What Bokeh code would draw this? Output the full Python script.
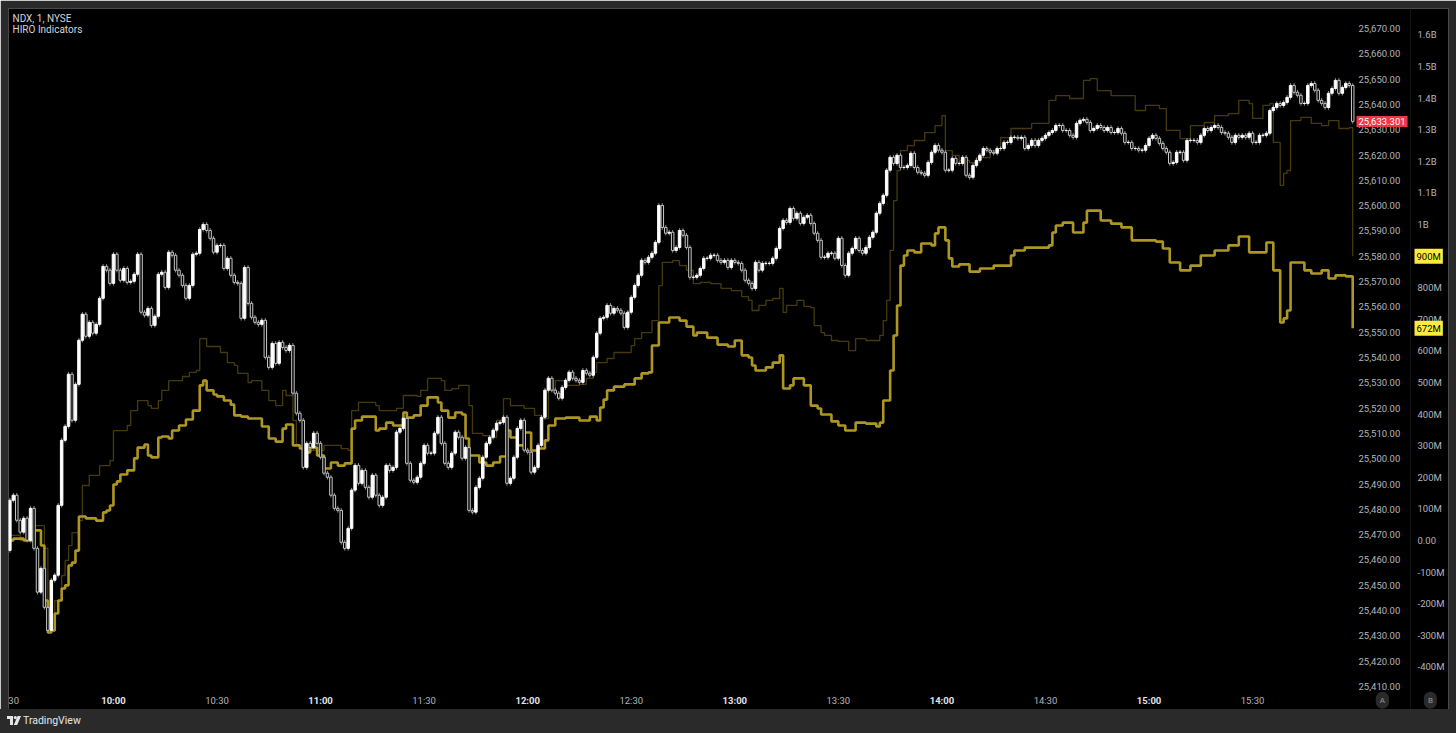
from bokeh.plotting import figure
from bokeh.models import (Range1d, LinearAxis, FixedTicker, NumeralTickFormatter,
                          Label, Div, ColumnDataSource, Span)
from bokeh.layouts import column
from bokeh.embed import file_html
from bokeh.resources import INLINE

# ---------------- data ----------------
# NDX 1-minute closes, 9:30 (minute 0) .. 15:59 (minute 389)
close = [
    25483.6, 25485.6, 25475.7, 25471.0, 25476.5, 25467.8, 25480.4, 25464.6, 25447.3, 25456.7,
    25441.3, 25432.2, 25452.0, 25454.0, 25481.6, 25507.3, 25512.8, 25533.4, 25515.2, 25529.4,
    25546.8, 25557.1, 25548.4, 25553.9, 25549.6, 25553.1, 25563.4, 25576.0, 25574.5, 25569.3,
    25580.8, 25574.5, 25570.5, 25575.2, 25569.7, 25570.1, 25572.9, 25580.8, 25557.9, 25556.7,
    25559.4, 25552.7, 25556.3, 25572.9, 25573.7, 25567.7, 25581.6, 25580.4, 25574.5, 25572.5,
    25568.5, 25563.4, 25568.5, 25580.8, 25581.2, 25590.6, 25592.6, 25590.2, 25587.1, 25581.6,
    25584.3, 25584.3, 25575.2, 25579.2, 25572.5, 25569.7, 25569.3, 25555.5, 25575.6, 25561.4,
    25555.9, 25553.9, 25553.1, 25554.7, 25540.1, 25536.1, 25545.6, 25537.7, 25546.0, 25544.0,
    25542.8, 25544.8, 25525.9, 25518.0, 25515.2,
    25496.6, 25506.1, 25504.5, 25510.1, 25506.1, 25500.6, 25494.3, 25492.7, 25485.6, 25480.4,
    25479.6, 25467.0, 25464.6, 25472.5, 25487.6, 25497.4, 25490.3, 25495.4, 25488.7, 25484.8,
    25493.5, 25485.6, 25481.6, 25484.8, 25497.4, 25495.4, 25496.6, 25510.5, 25512.0, 25516.0,
    25498.2, 25491.5, 25490.7, 25492.7, 25498.2, 25505.3, 25502.2, 25502.2, 25510.1, 25516.4,
    25506.1, 25498.2, 25496.6, 25502.2, 25510.5, 25508.5, 25500.2, 25504.5, 25479.6, 25478.9,
    25488.7, 25492.3, 25500.6, 25506.1, 25508.5, 25511.3, 25514.0, 25514.4, 25516.4, 25490.3,
    25492.3, 25500.6, 25512.0, 25515.2, 25503.4, 25502.6, 25494.7, 25496.6, 25505.3, 25516.4,
    25527.1, 25531.8, 25527.1, 25525.9, 25523.9, 25528.2, 25531.0, 25534.2, 25531.8, 25531.0,
    25530.2, 25534.9, 25533.8, 25533.0, 25540.1, 25549.6, 25555.5, 25555.9, 25560.6, 25557.5,
    25559.4, 25558.7, 25557.5, 25551.9, 25557.9, 25563.8, 25568.5, 25572.5, 25578.4,
    25577.6, 25579.6, 25581.2, 25585.5, 25600.1, 25591.4, 25589.1, 25589.5, 25582.3, 25583.5,
    25590.2, 25588.3, 25583.5, 25571.7, 25571.7, 25572.5, 25575.2, 25579.2, 25579.2, 25580.4,
    25580.4, 25578.4, 25577.6, 25578.4, 25575.6, 25578.4, 25577.6, 25577.2, 25574.5, 25570.5,
    25569.3, 25567.3, 25577.6, 25574.5, 25577.2, 25577.2, 25577.2, 25579.2, 25583.1, 25591.0,
    25594.2, 25593.4, 25598.9, 25595.0, 25597.0, 25593.0, 25595.4, 25596.2, 25593.0, 25589.1,
    25586.3, 25579.6, 25579.6, 25581.2, 25581.2, 25579.2, 25587.1, 25576.4, 25572.5, 25581.2,
    25583.1, 25587.1, 25582.3, 25581.2, 25583.5, 25587.5, 25589.5, 25597.0, 25600.9, 25604.1,
    25614.0, 25619.1, 25616.7, 25619.9, 25615.1, 25615.1, 25615.9, 25620.7, 25615.1, 25613.2,
    25612.8, 25612.0, 25617.1, 25621.1, 25623.8, 25621.9, 25621.1, 25614.0, 25614.0, 25618.7,
    25616.7, 25616.7, 25619.1, 25612.0, 25611.2, 25615.9, 25617.9, 25619.9, 25622.6, 25621.9,
    25621.1, 25620.7, 25622.6,
    25622.6, 25625.0, 25625.0, 25627.0, 25627.0, 25626.6, 25627.0, 25622.6, 25623.8, 25625.8,
    25623.8, 25625.8, 25626.6, 25627.8, 25628.9, 25629.7, 25631.7, 25631.7, 25629.7, 25629.7,
    25627.8, 25627.0, 25632.5, 25633.7, 25634.1, 25632.9, 25629.7, 25630.5, 25631.7, 25630.9,
    25629.7, 25630.9, 25628.9, 25628.9, 25630.5, 25628.6, 25625.0, 25625.0, 25622.6, 25622.6,
    25621.9, 25621.9, 25623.8, 25626.6, 25627.8, 25626.6, 25624.6, 25622.6, 25621.1, 25616.7,
    25617.1, 25621.1, 25621.1, 25617.9, 25625.8, 25625.8, 25625.8, 25625.0, 25627.8, 25630.5,
    25629.7, 25630.9, 25631.7, 25630.9, 25628.9, 25628.6, 25627.0, 25625.0, 25627.8, 25627.0,
    25627.8, 25627.0, 25628.6, 25625.0, 25625.0, 25627.8, 25627.8, 25628.6, 25637.6, 25638.8,
    25640.4, 25639.6, 25640.8, 25642.8, 25647.5, 25644.8, 25643.6, 25640.4, 25640.4, 25647.5,
    25648.3, 25645.6, 25641.6, 25640.4, 25638.8, 25644.4, 25646.3, 25649.5, 25644.4, 25646.7,
    25648.3, 25647.5, 25633.301,
]
first_open = 25463.8
last_price = 25633.301

# HIRO indicator (bright) - minute of change, value in millions
hiro_t = [0, 1, 4, 7, 9, 10, 11, 12, 13, 14, 15, 16, 17, 18, 19, 20, 22, 25, 27, 28,
          29, 30, 31, 32, 34, 36, 37, 39, 40, 41, 43, 44, 46, 47, 49, 51, 53, 55, 56, 57,
          59, 60, 62, 64, 65, 67, 69, 73, 75, 77, 79, 80, 82, 84, 85, 87, 89, 91, 93, 95,
          97, 99, 100, 102, 106, 107, 109, 111, 114, 115, 117, 119, 121, 124, 125, 127, 129, 131, 132, 133,
          136, 138, 140, 142, 144, 145, 147, 149, 151, 153, 155, 156, 158, 161, 165, 168, 170, 171, 172, 173,
          175, 178, 181, 183, 185, 186, 188, 191, 194, 196, 198, 199, 202, 205, 208, 210, 212, 214, 215, 216,
          219, 221, 223, 224, 226, 227, 230, 232, 234, 235, 238, 240, 242, 245, 248, 251, 252, 253, 255, 256,
          257, 258, 259, 260, 262, 264, 267, 268, 269, 271, 272, 273, 275, 278, 281, 285, 290, 291, 294, 301,
          302, 303, 305, 308, 311, 312, 316, 319, 322, 325, 332, 334, 336, 339, 342, 345, 349, 353, 356, 359,
          364, 366, 368, 369, 370, 371, 375, 377, 380, 382, 384, 387, 389]
hiro_v = [0, 6, 0, 32, -16, -190, -291, -285, -231, -190, -152, -142, -79, -70, -32, 76, 70, 63, 89, 95,
          111, 177, 187, 209, 222, 260, 294, 304, 269, 263, 326, 329, 323, 348, 364, 383, 411, 491, 506, 475,
          462, 456, 443, 430, 396, 392, 386, 361, 323, 313, 354, 367, 301, 291, 279, 294, 269, 228, 247, 237,
          244, 354, 380, 392, 348, 354, 373, 364, 405, 389, 396, 427, 453, 437, 411, 389, 405, 399, 323, 269,
          247, 237, 247, 266, 348, 326, 301, 342, 285, 291, 317, 364, 386, 389, 380, 392, 380, 421, 446, 475,
          487, 494, 513, 529, 532, 617, 690, 706, 696, 677, 649, 658, 642, 620, 614, 633, 586, 579, 554, 538,
          548, 563, 586, 481, 491, 513, 491, 427, 418, 399, 377, 364, 348, 373, 370, 361, 373, 443, 538, 649,
          744, 870, 902, 918, 912, 940, 934, 972, 991, 950, 893, 867, 874, 851, 861, 870, 902, 918, 927, 934,
          975, 997, 1006, 975, 1006, 1044, 1013, 1003, 991, 950, 946, 924, 880, 855, 870, 902, 918, 934, 962, 912,
          943, 855, 690, 703, 728, 880, 855, 845, 855, 829, 839, 836, 672]

# HIRO indicator (dark) - minute of change, value in millions
hiro2_t = [0, 3, 6, 10, 11, 12, 13, 15, 16, 17, 18, 20, 21, 23, 26, 29, 30, 34, 35, 37,
           40, 41, 43, 44, 46, 50, 52, 54, 55, 57, 61, 63, 65, 66, 69, 70, 73, 75, 77, 79,
           80, 82, 83, 87, 91, 96, 98, 99, 101, 106, 107, 112, 114, 118, 119, 121, 125, 126, 128, 130,
           133, 134, 137, 139, 141, 143, 145, 149, 152, 154, 156, 158, 161, 165, 167, 169, 170, 173, 175, 180,
           181, 183, 186, 188, 189, 192, 194, 196, 198, 200, 203, 206, 209, 212, 214, 215, 217, 219, 221, 223,
           224, 225, 228, 230, 232, 233, 235, 236, 238, 240, 243, 245, 248, 252, 253, 254, 255, 256, 257, 258,
           260, 262, 265, 268, 270, 271, 273, 275, 278, 280, 284, 287, 290, 296, 301, 303, 307, 311, 313, 315,
           319, 326, 329, 333, 335, 339, 342, 346, 349, 353, 356, 359, 360, 363, 365, 366, 368, 369, 370, 371,
           374, 377, 380, 382, 385, 388, 389]
hiro2_v = [16, 0, 47, -25, -237, -285, -190, -111, -63, -16, 25, 63, 174, 206, 237, 253, 348, 364, 411, 443,
           427, 418, 443, 475, 506, 519, 532, 538, 639, 614, 595, 563, 554, 529, 500, 506, 475, 443, 427, 475,
           459, 380, 301, 285, 301, 291, 285, 411, 437, 427, 411, 418, 459, 456, 475, 513, 506, 475, 481, 491,
           427, 339, 332, 326, 380, 449, 427, 418, 396, 386, 475, 506, 491, 494, 513, 532, 563, 576, 595, 617,
           639, 658, 696, 807, 880, 886, 870, 855, 813, 817, 813, 798, 791, 772, 760, 728, 744, 760, 766, 798,
           722, 744, 760, 741, 737, 680, 658, 649, 633, 630, 601, 639, 633, 649, 696, 760, 918, 1076, 1171, 1234,
           1250, 1266, 1291, 1313, 1345, 1234, 1219, 1203, 1196, 1212, 1234, 1275, 1304, 1320, 1393, 1408, 1399, 1456, 1462, 1424,
           1408, 1361, 1377, 1367, 1298, 1272, 1313, 1323, 1345, 1351, 1393, 1383, 1336, 1377, 1383, 1260, 1124, 1162, 1171, 1329,
           1339, 1320, 1313, 1329, 1304, 1307, 900]

time_ticks = [0, 30, 60, 90, 120, 150, 180, 210, 240, 270, 300, 330, 360]
time_labels = ["9:30", "10:00", "10:30", "11:00", "11:30", "12:00", "12:30",
               "13:00", "13:30", "14:00", "14:30", "15:00", "15:30"]
price_ticks = [25410 + 10 * i for i in range(27)]
hiro_ticks = [-400, -300, -200, -100, 0, 100, 200, 300, 400, 500, 600, 700, 800,
              900, 1000, 1100, 1200, 1300, 1400, 1500, 1600]
hiro_tick_labels = ["-400M", "-300M", "-200M", "-100M", "0.00", "100M", "200M", "300M",
                    "400M", "500M", "600M", "700M", "800M", "900M", "1B", "1.1B", "1.2B",
                    "1.3B", "1.4B", "1.5B", "1.6B"]
hiro_last = 672
hiro2_last = 900

# ---------------- layout / style constants ----------------
FONT = "Roboto"
FS = "9.5px"
AXIS_TXT = "#b2b5be"
FRAME_GRAY = "#2a2a2a"
X0, X1 = -0.4, 416.75          # full black panel (candles end near 389.5)
Y0, Y1 = 25400.93, 25677.9
PRICE_AXIS_X = 389.52          # left edge of price scale (A)
HIRO_AXIS_X = 405.75           # left edge of HIRO scale (B)
TIME_AXIS_Y = 25408.5          # top of time scale
LBL_Y = 25404.6                # vertical centre of time labels
WICK = 0.9

n = len(close)
xs = list(range(n))
opens = [first_open] + close[:-1]
up = [c >= o for o, c in zip(opens, close)]
src = ColumnDataSource(dict(
    x=xs,
    top=[max(o, c) for o, c in zip(opens, close)],
    bottom=[min(o, c) for o, c in zip(opens, close)],
    high=[max(o, c) + WICK for o, c in zip(opens, close)],
    low=[min(o, c) - WICK for o, c in zip(opens, close)],
    fill=["#ffffff" if u else "#000000" for u in up],
    line=["#ffffff" if u else "#c8c8c8" for u in up],
))

p = figure(width=1456, height=709, x_range=Range1d(X0, X1), y_range=Range1d(Y0, Y1),
           y_axis_location="right", output_backend="svg", toolbar_location=None,
           background_fill_color="#000000", border_fill_color=FRAME_GRAY,
           min_border_left=8, min_border_top=8, min_border_right=8, min_border_bottom=0)
p.outline_line_color = None
p.extra_y_ranges = {"hiro": Range1d(-534.9, 1683.8)}
p.grid.visible = False


def style_axis(ax, standoff):
    ax.axis_line_color = None
    ax.major_tick_line_color = None
    ax.minor_tick_line_color = None
    ax.major_tick_out = 0
    ax.major_tick_in = 0
    ax.minor_tick_out = 0
    ax.minor_tick_in = 0
    ax.major_label_standoff = standoff
    ax.major_label_text_font = FONT
    ax.major_label_text_font_size = FS
    ax.major_label_text_color = AXIS_TXT


# time axis (inside the black panel, like TradingView)
xa = p.xaxis[0]
xa.fixed_location = TIME_AXIS_Y
xa.ticker = FixedTicker(ticks=time_ticks)
xa.major_label_overrides = {t: (lab if t % 60 == 0 else "") for t, lab in zip(time_ticks, time_labels)}
style_axis(xa, 5)

# price axis (A)
ya = p.yaxis[0]
ya.fixed_location = PRICE_AXIS_X
ya.ticker = FixedTicker(ticks=price_ticks)
ya.formatter = NumeralTickFormatter(format="0,0.00")
style_axis(ya, 4)

# HIRO axis (B)
ha = LinearAxis(y_range_name="hiro", ticker=FixedTicker(ticks=hiro_ticks),
                major_label_overrides={t: s for t, s in zip(hiro_ticks, hiro_tick_labels)},
                fixed_location=HIRO_AXIS_X)
style_axis(ha, 7)
p.add_layout(ha, "right")

# faint separator between the two scales
p.add_layout(Span(location=HIRO_AXIS_X, dimension="height", line_color="#151515", line_width=1))

# HIRO lines
p.step(hiro2_t, hiro2_v, mode="after", line_color="#463a0c", line_width=1.3, y_range_name="hiro")
p.step(hiro_t, hiro_v, mode="after", line_color="#ad9722", line_width=2.6, y_range_name="hiro")

# candles
p.segment(x0="x", y0="high", x1="x", y1="low", source=src, line_color="#8f8f8f", line_width=1)
p.vbar(x="x", width=0.72, top="top", bottom="bottom", source=src,
       fill_color="fill", line_color="line", line_width=1)

# header texts
p.add_layout(Label(x=0.76, y=25674.0, text="NDX, 1, NYSE", text_font=FONT, text_font_size="10px",
                   text_color="#d1d4dc", text_baseline="middle"))
p.add_layout(Label(x=0.76, y=25669.6, text="HIRO Indicators", text_font=FONT, text_font_size="10px",
                   text_color="#d1d4dc", text_baseline="middle"))

# bold hour labels on time axis
for t, lab in zip(time_ticks, time_labels):
    if t % 60 == 30:
        p.add_layout(Label(x=t, y=LBL_Y, text=lab, text_align="center", text_baseline="middle",
                           text_font=FONT, text_font_size=FS, text_font_style="bold",
                           text_color="#e0e3eb"))

# last-value badges
p.add_layout(Label(x=PRICE_AXIS_X, y=last_price, x_offset=2, text=f"{last_price:,.3f}",
                   text_baseline="middle", text_font=FONT, text_font_size=FS,
                   text_color="#ffffff", background_fill_color="#f23645", padding=2))
for v in (hiro2_last, hiro_last):
    p.add_layout(Label(x=HIRO_AXIS_X, y=v, y_range_name="hiro", x_offset=4, text=f"{v}M",
                       text_baseline="middle", text_font=FONT, text_font_size=FS,
                       text_color="#000000", background_fill_color="#ffeb3b", padding=2))

# scale badges A / B
for txt, xpos in (("A", 397.6), ("B", 411.5)):
    p.add_layout(Label(x=xpos, y=LBL_Y, text=txt, text_align="center",
                       text_baseline="middle", text_font=FONT, text_font_size="8px",
                       text_color="#9a9a9a", background_fill_color="#2a2a2a",
                       padding=4, border_radius=7))

logo = ('<svg width="14" height="9" viewBox="0 0 14 9" style="display:block">'
        '<path d="M0 0H6V9H3V3H0Z" fill="#e6e6e6"/>'
        '<circle cx="8.3" cy="1.6" r="1.6" fill="#e6e6e6"/>'
        '<path d="M10.6 0H14L10.2 9H6.8Z" fill="#e6e6e6"/></svg>')
footer = Div(text=('<div style="display:flex;align-items:center;height:22px;padding-left:7px;">'
                   + logo +
                   '<span style="margin-left:2px;font-family:Roboto,sans-serif;font-size:10.5px;'
                   'color:#e6e6e6;">TradingView</span></div>'),
             width=1456, height=24, margin=0,
             styles={"background-color": FRAME_GRAY})

layout = column(p, footer, spacing=0)
open("out.html", "w").write(file_html(layout, INLINE))
